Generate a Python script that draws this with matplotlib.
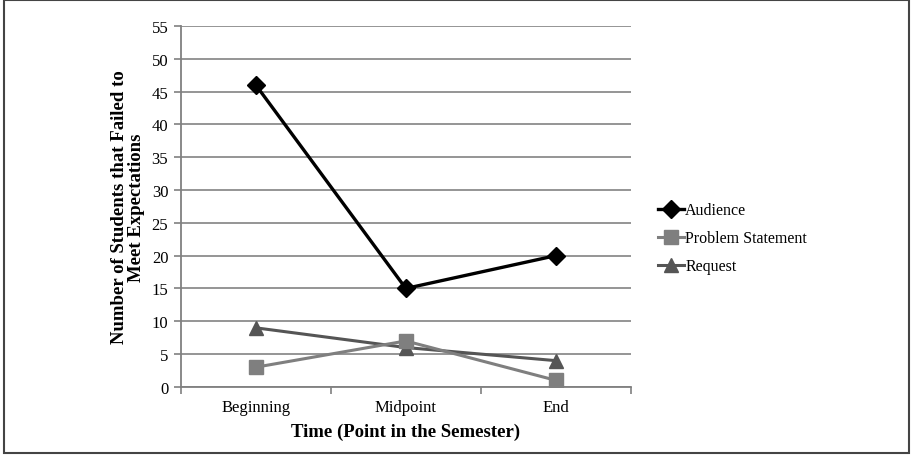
import matplotlib
matplotlib.use("Agg")
import matplotlib.pyplot as plt
from matplotlib.patches import Rectangle
from matplotlib.lines import Line2D

categories = ["Beginning", "Midpoint", "End"]
audience = [46, 15, 20]
problem_statement = [3, 7, 1]
request = [9, 6, 4]
y_ticks = [0, 5, 10, 15, 20, 25, 30, 35, 40, 45, 50, 55]

plt.rcParams["font.family"] = ["Liberation Serif", "DejaVu Serif"]

fig = plt.figure(figsize=(9.13, 4.64), dpi=100)
ax = fig.add_axes([0.198, 0.164, 0.493, 0.778])

x = list(range(len(categories)))
ax.plot(x, request, color="#555555", lw=2.2, marker="^", ms=10.5,
        label="Request", zorder=3)
ax.plot(x, problem_statement, color="#7f7f7f", lw=2.2, marker="s", ms=10,
        label="Problem Statement", zorder=3)
ax.plot(x, audience, color="#000000", lw=2.4, marker="D", ms=9,
        label="Audience", zorder=4)

ax.set_xlim(-0.5, 2.5)
ax.set_ylim(0, 55)
ax.set_yticks(y_ticks)
ax.set_xticks(x)
ax.set_xticklabels(categories)
ax.set_xticks([-0.5, 0.5, 1.5, 2.5], minor=True)
ax.tick_params(axis="x", which="major", length=0, labelsize=12, pad=9)
ax.tick_params(axis="x", which="minor", length=5, color="#808080", width=1.2)
ax.tick_params(axis="y", length=5, color="#808080", width=1.2, labelsize=12, pad=4)

ax.grid(axis="y", color="#8c8c8c", lw=1.3)
ax.set_axisbelow(True)
for side in ("top", "right"):
    ax.spines[side].set_visible(False)
for side in ("left", "bottom"):
    ax.spines[side].set_color("#808080")
    ax.spines[side].set_linewidth(1.3)

ax.set_xlabel("Time (Point in the Semester)", fontsize=13.5, fontweight="bold", labelpad=5)
ax.set_ylabel("Number of Students that Failed to\nMeet Expectations",
              fontsize=13.5, fontweight="bold", labelpad=5, linespacing=1.0)

handles = [
    Line2D([], [], color="#000000", lw=2.4, marker="D", ms=9),
    Line2D([], [], color="#7f7f7f", lw=2.2, marker="s", ms=10),
    Line2D([], [], color="#555555", lw=2.2, marker="^", ms=10.5),
]
fig.legend(handles, ["Audience", "Problem Statement", "Request"],
           loc="upper left", bbox_to_anchor=(0.705, 0.593),
           frameon=False, fontsize=11.5, handlelength=1.6, handletextpad=0.1,
           labelspacing=0.75)

fig.patches.append(Rectangle((0.004, 0.022), 0.992, 0.975, transform=fig.transFigure,
                             fill=False, edgecolor="#444444", lw=1.5))

fig.savefig("out.png", dpi=100)
